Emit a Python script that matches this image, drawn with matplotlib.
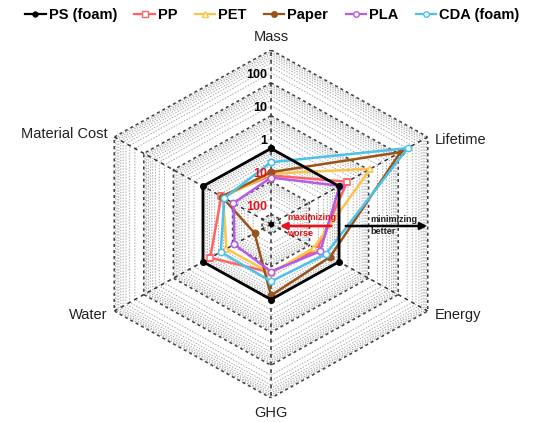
import numpy as np
import matplotlib
matplotlib.use("Agg")
import matplotlib.pyplot as plt
from matplotlib.lines import Line2D

plt.rcParams['font.family'] = ['Liberation Sans', 'DejaVu Sans']

# axes of the radar, clockwise from top
categories = ['Mass', 'Lifetime', 'Energy', 'GHG', 'Water', 'Material Cost']

# improvement factor relative to PS (foam), >1 = better
ps = [1, 1, 1, 1, 1, 1]
pp = [0.15, 1.9, 0.18, 0.15, 0.57, 0.24]
pet = [0.17, 11.5, 0.14, 0.16, 0.16, 0.21]
paper = [0.19, 120, 0.5, 0.75, 0.018, 0.23]
pla = [0.13, 1.05, 0.23, 0.14, 0.087, 0.093]
cda = [0.38, 210, 0.35, 0.28, 0.25, 0.19]

tick_vals = [100, 10, 1, 0.1, 0.01]
tick_text = ['100', '10', '1', '10', '100']
tick_cols = ['black', 'black', 'black', '#e8141b', '#e8141b']

rmin, rmax = 0.005, 1000

fig = plt.figure(figsize=(5.34, 4.22), dpi=100)
ax = fig.add_axes([0.1685, 0.0567, 0.678, 0.825], projection='polar')
ax.set_aspect('auto')
ax.set_theta_offset(np.pi / 2)
ax.set_theta_direction(-1)
ax.set_rscale('log')
ax.set_rlim(rmin, rmax)
ax.grid(False)
ax.spines['polar'].set_visible(False)
ax.set_xticks([])
ax.set_yticks([])
ax.patch.set_alpha(0)

n = len(categories)
theta = np.arange(n) * 2 * np.pi / n
theta_c = np.append(theta, theta[0])

# minor hexagons
for d in range(-3, 3):
    for k in range(2, 10):
        v = k * 10.0 ** d
        if rmin < v < rmax:
            ax.plot(theta_c, [v] * (n + 1), color='#a8a8a8', lw=0.7,
                    ls=(0, (1.5, 1.5)), zorder=1)
# major hexagons
for v in [0.01, 0.1, 1, 10, 100, 1000]:
    ax.plot(theta_c, [v] * (n + 1), color='#404040', lw=1.1,
            ls=(0, (2, 2)), zorder=2)
# spokes
for t in theta:
    ax.plot([t, t], [rmin, rmax], color='#333333', lw=1.1,
            ls=(0, (2.5, 2.5)), zorder=2)
ax.plot([0], [rmin], 'o', color='black', ms=3, zorder=3)

series = [
    ('PP', pp, '#ff6464', 's', 'white'),
    ('PET', pet, '#ffc24a', '^', 'white'),
    ('Paper', paper, '#9a5318', 'o', '#9a5318'),
    ('PLA', pla, '#b65ae8', 'o', 'white'),
    ('CDA (foam)', cda, '#4cc2ea', 'o', 'white'),
]
handles = [Line2D([], [], color='black', lw=1.6, marker='o', ms=3.5,
                  label='PS (foam)')]
for name, vals, col, mk, mfc in series:
    ax.plot(theta_c, vals + vals[:1], color=col, lw=1.8, marker=mk, ms=4.5,
            mfc=mfc, mec=col, mew=1.1, zorder=4)
    handles.append(Line2D([], [], color=col, lw=1.6, marker=mk, ms=4,
                          mfc=mfc, mec=col, mew=1.0, label=name))
ax.plot(theta_c, ps + ps[:1], color='black', lw=2.0, marker='o', ms=4,
        zorder=5)

# radial tick labels
for v, s, c in zip(tick_vals, tick_text, tick_cols):
    ax.annotate(s, xy=(0, v), xytext=(-3, 1), textcoords='offset points',
                ha='right', va='bottom', fontsize=9, fontweight='bold',
                color=c, zorder=6)

# category labels
offsets = [(0, 4, 'center', 'bottom'), (5, -2, 'left', 'center'),
           (5, -3, 'left', 'center'), (0, -6, 'center', 'top'),
           (-5, -3, 'right', 'center'), (-5, 2, 'right', 'center')]
for t, lab, (dx, dy, ha, va) in zip(theta, categories, offsets):
    ax.annotate(lab, xy=(t, rmax), xytext=(dx, dy), textcoords='offset points',
                ha=ha, va=va, fontsize=10.5, color='#222222')

# direction arrows
W, H = 534, 422
def fp(x, y):
    return (x / W, 1 - y / H)

fig.patches.append(matplotlib.patches.FancyArrowPatch(
    fp(343, 226), fp(430, 226), transform=fig.transFigure,
    arrowstyle='-|>', mutation_scale=10, lw=1.8, color='black', zorder=7))
fig.text(*fp(370, 219), 'minimizing', fontsize=6.5, fontweight='bold',
         ha='left', va='center', color='#222222')
fig.text(*fp(370, 232), 'better', fontsize=6.5, fontweight='bold',
         ha='left', va='center', color='#222222')
fig.patches.append(matplotlib.patches.FancyArrowPatch(
    fp(334, 226), fp(277, 226), transform=fig.transFigure,
    arrowstyle='-|>', mutation_scale=10, lw=2.0, color='#e8141b', zorder=7))
fig.text(*fp(287, 218), 'maximizing', fontsize=6.5, fontweight='bold',
         ha='left', va='center', color='#e8141b')
fig.text(*fp(287, 233), 'worse', fontsize=6.5, fontweight='bold',
         ha='left', va='center', color='#e8141b')

fig.legend(handles=handles, loc='center', bbox_to_anchor=(0.51, 1 - 15 / H),
           ncol=6, frameon=False, handlelength=1.4, handletextpad=0.2,
           columnspacing=1.2, prop={'weight': 'bold', 'size': 10.5})

fig.savefig('out.png', dpi=100)
